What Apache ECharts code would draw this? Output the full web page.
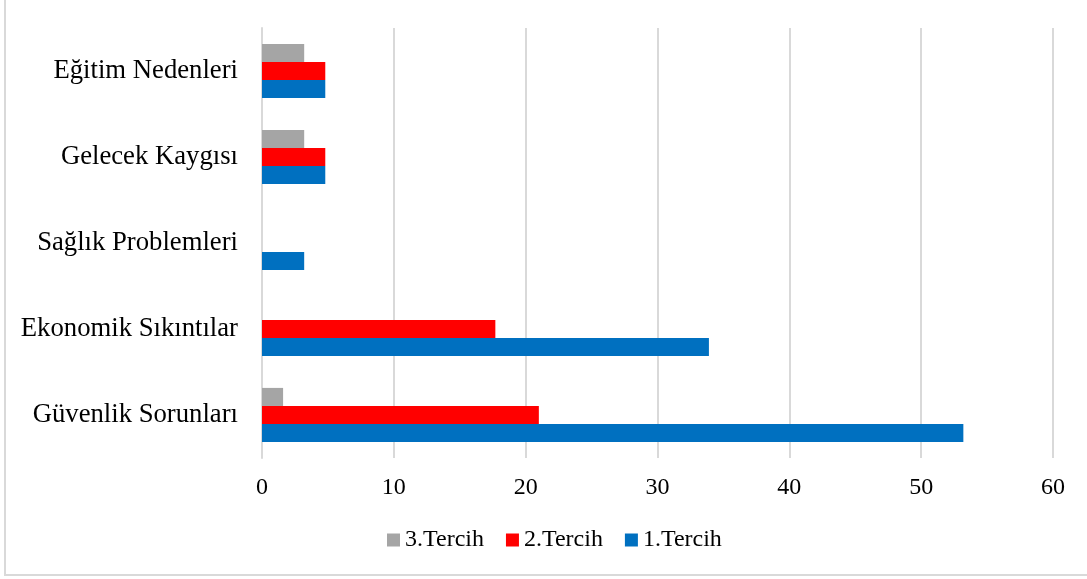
<!DOCTYPE html>
<html><head><meta charset="utf-8">
<script src="https://cdn.jsdelivr.net/npm/echarts@6/dist/echarts.min.js"></script>
<style>
html,body{margin:0;padding:0;background:#fff;overflow:hidden;}
#frame{position:absolute;left:4px;top:-4px;width:1100px;height:580px;border:2px solid #d9d9d9;box-sizing:border-box;}
#c{position:absolute;left:0;top:0;width:1087px;height:579px;}
</style></head>
<body><div id="frame"></div><div id="c"></div>
<script>
const categories = ['Güvenlik Sorunları','Ekonomik Sıkıntılar','Sağlık Problemleri','Gelecek Kaygısı','Eğitim Nedenleri'];
const tercih1 = [53.2, 33.9, 3.2, 4.8, 4.8];
const tercih2 = [21.0, 17.7, 0, 4.8, 4.8];
const tercih3 = [1.6, 0, 0, 3.2, 3.2];
const xTicks = [0,10,20,30,40,50,60];

const font = '"Liberation Serif","Times New Roman",serif';
const chart = echarts.init(document.getElementById('c'));
chart.setOption({
  animation:false,
  textStyle:{fontFamily:font},
  grid:{left:262,right:34,top:28,bottom:121},
  legend:{
    data:['3.Tercih','2.Tercih','1.Tercih'],
    top:523, left:382,
    itemWidth:13,itemHeight:13,itemGap:22,
    icon:'rect',
    textStyle:{fontFamily:font,fontSize:24,color:'#000'}
  },
  xAxis:{
    type:'value',min:xTicks[0],max:xTicks[xTicks.length-1],interval:10,
    axisLine:{show:false},axisTick:{show:false},
    splitLine:{lineStyle:{color:'#d9d9d9',width:2}},
    axisLabel:{fontFamily:font,fontSize:24,color:'#000',margin:18}
  },
  yAxis:{
    type:'category',data:categories,
    axisLine:{show:true,lineStyle:{color:'#d9d9d9',width:2}},
    axisTick:{show:false},
    axisLabel:{fontFamily:font,fontSize:26.7,color:'#000',margin:24}
  },
  series:[
    {name:'3.Tercih',type:'bar',data:tercih3,itemStyle:{color:'#A5A5A5'},barGap:'0%',barCategoryGap:'37%'},
    {name:'2.Tercih',type:'bar',data:tercih2,itemStyle:{color:'#FF0000'},barGap:'0%',barCategoryGap:'37%'},
    {name:'1.Tercih',type:'bar',data:tercih1,itemStyle:{color:'#0070C0'},barGap:'0%',barCategoryGap:'37%'}
  ]
});
</script></body></html>
